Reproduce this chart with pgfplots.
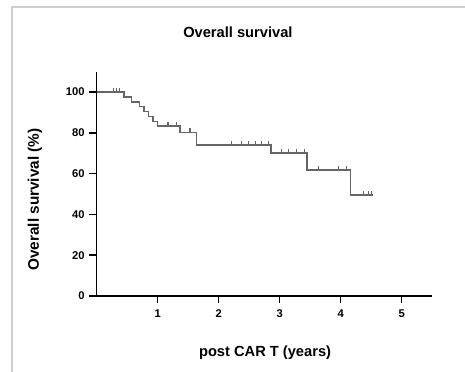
\documentclass[border=0pt]{standalone}
\usepackage{fontspec}
\setmainfont{Liberation Sans}
\usepackage{pgfplots}
\pgfplotsset{compat=1.18}
\definecolor{curve}{HTML}{666666}
\definecolor{frame}{HTML}{CFCFCF}
\begin{document}
\begin{tikzpicture}
\path[use as bounding box] (-72.5pt,-57pt) rectangle (276.25pt,222pt);
\draw[frame,line width=1.5pt] (-63.2pt,-57pt) -- (-63.2pt,216.4pt) -- (276.25pt,216.4pt);
\begin{axis}[
  scale only axis,
  width=251.6pt, height=168.3pt,
  xmin=0, xmax=5.5, ymin=0, ymax=110,
  axis lines=left,
  axis line style={-, line width=1.1pt, black},
  xtick={1,2,3,4,5}, ytick={0,20,40,60,80,100},
  tick align=outside,
  major tick length=5.5pt,
  every tick/.style={black, line width=1.1pt},
  tick label style={font=\bfseries\fontsize{8.4}{9}\selectfont},
  xticklabel style={yshift=-1.5pt},
  /pgf/number format/assume math mode=true,
  title={\bfseries Overall survival},
  title style={font=\fontsize{11}{13}\selectfont, at={(axis description cs:0.421,1.141)}, anchor=center},
  xlabel={\bfseries post CAR T (years)},
  xlabel style={font=\fontsize{11}{13}\selectfont, at={(axis description cs:0.502,-0.254)}, anchor=center},
  ylabel={\bfseries Overall survival (\%)},
  ylabel style={font=\fontsize{11.5}{13}\selectfont, at={(axis description cs:-0.184,0.43)}, anchor=center},
  clip=false,
]
\addplot[const plot, curve, line width=1.2pt] coordinates {
(0,100) (0.45,97.6) (0.57,95.2) (0.70,92.8) (0.78,90.4) (0.85,88.0) (0.92,85.6)
(1.00,83.3) (1.37,80.2) (1.64,74.0) (2.86,70.0) (3.45,61.8) (4.16,49.5) (4.53,49.5)
};
\addplot[only marks, mark=|, curve, mark size=1.8pt, line width=0.8pt,
  every mark/.append style={yshift=1.4pt}] coordinates {
(0.27,100) (0.33,100) (0.38,100)
(1.17,83.3) (1.31,83.3)
(1.53,80.2)
(2.21,74) (2.38,74) (2.49,74) (2.60,74) (2.71,74) (2.81,74)
(3.03,70) (3.14,70) (3.28,70) (3.41,70)
(3.63,61.8) (3.96,61.8) (4.10,61.8)
(4.37,49.5) (4.45,49.5) (4.51,49.5)
};
\end{axis}
\end{tikzpicture}
\end{document}
